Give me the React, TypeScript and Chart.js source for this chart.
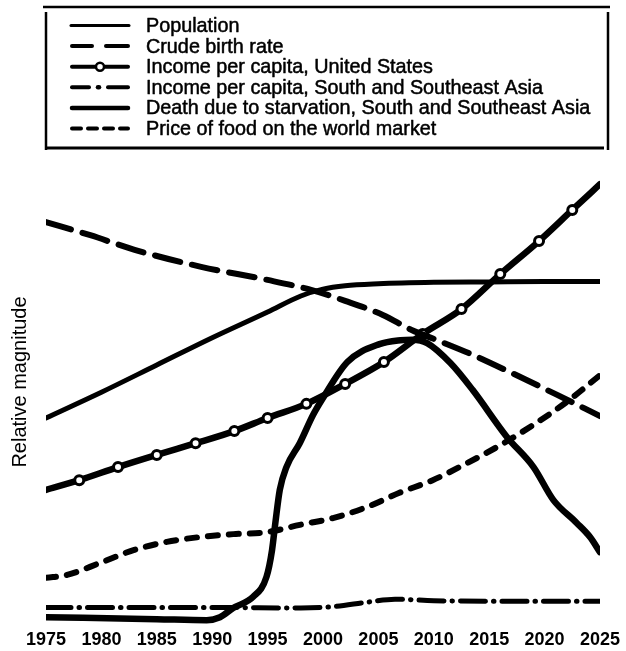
import React, { useEffect, useRef } from "react";
import { Chart, registerables } from "chart.js";

Chart.register(...registerables);

const FONT = '"Liberation Sans", Arial, Helvetica, sans-serif';

// ---- data ----
const xTickYears = [1975, 1980, 1985, 1990, 1995, 2000, 2005, 2010, 2015, 2020, 2025];

const legendLabels = [
  "Population",
  "Crude birth rate",
  "Income per capita, United States",
  "Income per capita, South and Southeast Asia",
  "Death due to starvation, South and Southeast Asia",
  "Price of food on the world market",
];

const populationYears = [1975, 1980, 1985, 1990, 1995, 1998, 2000, 2002, 2005, 2010, 2015, 2020, 2025];
const populationValues = [42.6, 47.9, 53.5, 59.1, 64.4, 67.7, 69.1, 69.8, 70.2, 70.5, 70.6, 70.7, 70.7];

const birthRateYears = [1975, 1979, 1983, 1989, 1995, 1999, 2002, 2005.4, 2008, 2010.3, 2013.5, 2017, 2021, 2025];
const birthRateValues = [82.9, 80.2, 77.2, 73.7, 71.0, 68.9, 66.7, 63.8, 60.7, 58.6, 55.6, 51.9, 47.5, 43.0];

const usIncomeYears = [1975, 1978, 1981.5, 1985, 1988.5, 1992, 1995, 1998.5, 2002, 2005.5, 2009, 2012.5, 2016, 2019.5, 2022.5, 2025];
const usIncomeValues = [27.8, 29.8, 32.5, 35.0, 37.4, 39.9, 42.6, 45.5, 49.6, 54.1, 59.9, 65.0, 72.2, 79.0, 85.4, 90.7];
const usIncomeMarkerYears = [1978, 1981.5, 1985, 1988.5, 1992, 1995, 1998.5, 2002, 2005.5, 2009, 2012.5, 2016, 2019.5, 2022.5];

const asiaIncomeYears = [1975, 1990, 1998, 2001, 2004, 2006.5, 2010, 2015, 2020, 2025];
const asiaIncomeValues = [3.6, 3.6, 3.5, 3.8, 4.7, 5.3, 5.0, 4.9, 4.9, 4.9];

const starvationYears = [1975, 1985, 1989.5, 1990.7, 1991.9, 1993.7, 1994.9, 1995.4, 1995.7, 1996.1, 1996.7, 1997.9, 1999.1, 2000, 2002.2, 2005.1, 2007, 2008.1, 2009.4, 2011.5, 2013.5, 2016.6, 2019, 2020.8, 2022.9, 2024.1, 2025];
const starvationValues = [1.6, 1.2, 1.0, 1.6, 3.5, 5.8, 9.9, 15.4, 21.0, 27.8, 32.5, 37.4, 43.2, 46.7, 54.1, 57.8, 58.6, 58.7, 58.0, 53.9, 48.4, 38.7, 32.5, 25.7, 21.0, 18.1, 15.0];

const foodPriceYears = [1975, 1976.9, 1979.9, 1982.9, 1985.9, 1988.9, 1991.9, 1994.9, 1997.9, 2000.9, 2004, 2006.9, 2009.9, 2013, 2016, 2019, 2022, 2025];
const foodPriceValues = [9.7, 10.3, 12.8, 15.4, 17.1, 18.1, 18.7, 19.1, 20.6, 22.0, 24.3, 27.2, 29.8, 33.3, 37.0, 41.2, 45.9, 51.4];

const pts = (xs: number[], ys: number[]) => xs.map((x, i) => ({ x, y: ys[i] }));

// legend drawn in the box above the plot
const boxLegend = {
  id: "boxLegend",
  afterDraw(chart: any) {
    const ctx: CanvasRenderingContext2D = chart.ctx;
    ctx.save();
    ctx.strokeStyle = "#000";
    ctx.fillStyle = "#000";
    ctx.lineCap = "butt";
    // frame
    ctx.lineWidth = 2.5;
    ctx.beginPath();
    ctx.moveTo(43, 7);
    ctx.lineTo(610, 7);
    ctx.stroke();
    ctx.lineWidth = 2.5;
    ctx.beginPath();
    ctx.moveTo(46, 12);
    ctx.lineTo(46, 150);
    ctx.moveTo(608, 12);
    ctx.lineTo(608, 150);
    ctx.stroke();
    ctx.lineWidth = 3;
    ctx.beginPath();
    ctx.moveTo(45, 148);
    ctx.lineTo(604, 148);
    ctx.stroke();

    const x0 = 70;
    const x1 = 130;
    const rowY = (i: number) => 25.5 + i * 20.6;
    const seg = (a: number, b: number, y: number, w: number) => {
      ctx.lineWidth = w;
      ctx.beginPath();
      ctx.moveTo(a, y);
      ctx.lineTo(b, y);
      ctx.stroke();
    };
    ctx.lineCap = "round";
    // Population
    seg(x0 + 1, x1 - 1, rowY(0), 3);
    // Crude birth rate
    seg(x0 + 2, 92, rowY(1), 4);
    seg(106, x1 - 2, rowY(1), 4);
    // US income
    seg(x0 + 2, x1 - 2, rowY(2), 4);
    ctx.beginPath();
    ctx.arc(100, rowY(2), 4, 0, Math.PI * 2);
    ctx.fillStyle = "#fff";
    ctx.fill();
    ctx.lineWidth = 2.5;
    ctx.stroke();
    ctx.fillStyle = "#000";
    // Asia income
    seg(x0 + 2, 89, rowY(3), 4);
    seg(98, 99, rowY(3), 4.5);
    seg(108, x1 - 2, rowY(3), 4);
    // Starvation
    seg(x0 + 2, x1 - 2, rowY(4), 4.5);
    // Food price
    seg(x0 + 2, 81, rowY(5), 4);
    seg(88, 97, rowY(5), 4);
    seg(104, 113, rowY(5), 4);
    seg(120, x1 - 2, rowY(5), 4);

    ctx.font = `19.8px ${FONT}`;
    ctx.textBaseline = "middle";
    ctx.textAlign = "left";
    ctx.lineWidth = 0.5;
    ctx.lineJoin = "round";
    legendLabels.forEach((t, i) => {
      ctx.fillText(t, 146, rowY(i) + 1);
      ctx.strokeText(t, 146, rowY(i) + 1);
    });
    ctx.restore();
  },
};

export default function App() {
  const ref = useRef<HTMLCanvasElement | null>(null);

  useEffect(() => {
    if (!ref.current) return;
    const black = "#000";
    const base = {
      borderColor: black,
      backgroundColor: black,
      pointRadius: 0,
      fill: false,
      cubicInterpolationMode: "monotone" as const,
      borderCapStyle: "round" as const,
      borderJoinStyle: "round" as const,
    };
    const chart = new Chart(ref.current, {
      type: "line",
      data: {
        datasets: [
          { ...base, label: legendLabels[0], data: pts(populationYears, populationValues), borderWidth: 5 },
          { ...base, label: legendLabels[1], data: pts(birthRateYears, birthRateValues), borderWidth: 6, borderDash: [26, 12] },
          {
            ...base,
            label: legendLabels[2],
            data: pts(usIncomeYears, usIncomeValues),
            borderWidth: 6.5,
            pointRadius: (c: any) => (usIncomeMarkerYears.includes(usIncomeYears[c.dataIndex]) ? 4.5 : 0),
            pointBackgroundColor: "#fff",
            pointBorderColor: black,
            pointBorderWidth: 3,
          },
          { ...base, label: legendLabels[3], data: pts(asiaIncomeYears, asiaIncomeValues), borderWidth: 5, borderDash: [25, 8, 0.5, 8] },
          { ...base, label: legendLabels[4], data: pts(starvationYears, starvationValues), borderWidth: 6.5 },
          { ...base, label: legendLabels[5], data: pts(foodPriceYears, foodPriceValues), borderWidth: 6, borderDash: [10, 11] },
        ],
      },
      options: {
        animation: false,
        responsive: false,
        devicePixelRatio: 1,
        layout: { padding: { top: 139, right: 26, bottom: 0, left: 0 } },
        plugins: { legend: { display: false }, tooltip: { enabled: false } },
        scales: {
          x: {
            type: "linear",
            position: "bottom",
            min: 1975,
            max: 2025,
            grid: { display: false, drawTicks: false },
            border: { display: false },
            afterBuildTicks: (axis: any) => {
              axis.ticks = xTickYears.map((v) => ({ value: v }));
            },
            afterFit: (axis: any) => {
              axis.height = 26;
            },
            ticks: {
              color: black,
              padding: 6,
              maxRotation: 0,
              autoSkip: false,
              font: { family: FONT, size: 18, weight: "bold", lineHeight: 1 },
              callback: (v: any) => String(v),
            },
          },
          y: {
            type: "linear",
            min: 0,
            max: 100,
            grid: { display: false, drawTicks: false },
            border: { display: false },
            ticks: { display: false },
            title: {
              display: true,
              text: "Relative magnitude",
              color: black,
              font: { family: FONT, size: 20 },
              padding: { top: 8, bottom: 14 },
            },
          },
        },
      },
      plugins: [boxLegend],
    });
    return () => chart.destroy();
  }, []);

  return (
    <div style={{ position: "absolute", left: 0, top: 0, width: 626, height: 651, background: "#fff" }}>
      <canvas ref={ref} width={626} height={651} />
    </div>
  );
}
